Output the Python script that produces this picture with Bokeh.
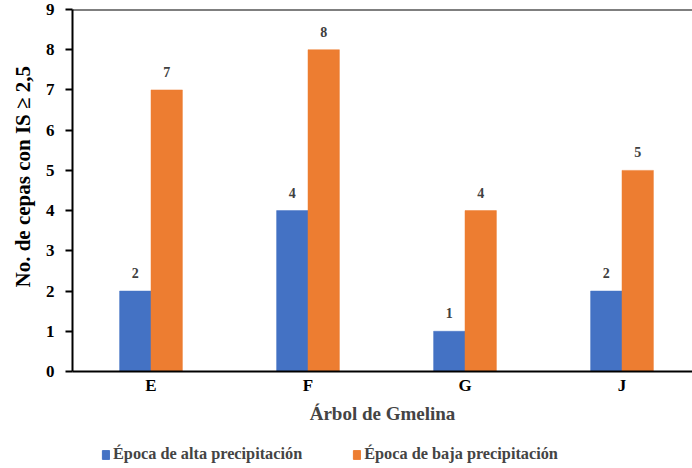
from bokeh.plotting import figure
from bokeh.layouts import column
from bokeh.models import (Range1d, ColumnDataSource, LabelSet, Span, Legend,
                          LegendItem, FixedTicker, Title)
from bokeh.transform import dodge
from bokeh.embed import file_html
from bokeh.resources import INLINE

# Data
arboles = ["E", "F", "G", "J"]
alta = [2, 4, 1, 2]
baja = [7, 8, 4, 5]
y_ticks = [0, 1, 2, 3, 4, 5, 6, 7, 8, 9]
serie_alta = "Época de alta precipitación"
serie_baja = "Época de baja precipitación"
titulo_x = "Árbol de Gmelina"
titulo_y = "No. de cepas con IS ≥ 2,5"

AZUL = "#4472C4"
NARANJA = "#ED7D31"
FONT = "Liberation Serif"

src = ColumnDataSource(dict(
    x=list(range(len(arboles))),
    alta=alta,
    baja=baja,
    alta_txt=[str(v) for v in alta],
    baja_txt=[str(v) for v in baja],
))

p = figure(width=692, height=440, output_backend="svg", toolbar_location=None,
           x_range=Range1d(-0.5, 3.449), y_range=Range1d(0, 9),
           min_border_left=72, min_border_right=0, min_border_top=9,
           min_border_bottom=69)
p.outline_line_color = None
p.xgrid.grid_line_color = None
p.ygrid.grid_line_color = None
p.background_fill_color = "white"
p.border_fill_color = "white"

w = 0.2
p.vbar(x=dodge("x", -w / 2, range=p.x_range), top="alta", width=w,
       source=src, fill_color=AZUL, line_color=AZUL, line_width=0.5)
p.vbar(x=dodge("x", w / 2, range=p.x_range), top="baja", width=w,
       source=src, fill_color=NARANJA, line_color=NARANJA, line_width=0.5)

# value labels above each bar
for col, off in (("alta", -w / 2), ("baja", w / 2)):
    p.add_layout(LabelSet(x=dodge("x", off, range=p.x_range), y=col,
                          text=col + "_txt", source=src, y_offset=13,
                          text_align="center", text_baseline="bottom",
                          text_font=FONT, text_font_style="bold",
                          text_font_size="14px", text_color="#404040"))

# top frame line
p.add_layout(Span(location=9, dimension="width", line_color="black", line_width=2))

# y axis
p.yaxis.ticker = FixedTicker(ticks=y_ticks)
p.yaxis.axis_line_width = 2
p.yaxis.major_tick_line_width = 2
p.yaxis.major_tick_out = 7
p.yaxis.major_tick_in = 0
p.yaxis.minor_tick_line_color = None
p.yaxis.major_label_standoff = 11
p.yaxis.major_label_text_font = FONT
p.yaxis.major_label_text_font_style = "bold"
p.yaxis.major_label_text_font_size = "17px"
p.yaxis.major_label_text_color = "black"

# y title, set a little above the middle of the axis
p.add_layout(Title(text=titulo_y, align="left", offset=84, standoff=15,
                   text_font=FONT, text_font_style="bold",
                   text_font_size="21px", text_color="black"), "left")

# x axis
p.xaxis.ticker = FixedTicker(ticks=list(range(len(arboles))))
p.xaxis.major_label_overrides = {i: a for i, a in enumerate(arboles)}
p.xaxis.axis_line_width = 2
p.xaxis.major_tick_line_color = None
p.xaxis.major_tick_out = 0
p.xaxis.major_tick_in = 0
p.xaxis.minor_tick_line_color = None
p.xaxis.minor_tick_out = 0
p.xaxis.major_label_standoff = 4
p.xaxis.major_label_text_font = FONT
p.xaxis.major_label_text_font_style = "bold"
p.xaxis.major_label_text_font_size = "17px"
p.xaxis.major_label_text_color = "black"
p.xaxis.axis_label = titulo_x
p.xaxis.axis_label_text_font = FONT
p.xaxis.axis_label_text_font_style = "bold"
p.xaxis.axis_label_text_font_size = "19px"
p.xaxis.axis_label_standoff = 5

# legend strip underneath the chart (its frame lines up with the chart's frame)
leg = figure(width=692, height=28, output_backend="svg", toolbar_location=None,
             x_axis_type=None, y_axis_type=None,
             x_range=Range1d(0, 1), y_range=Range1d(0, 1),
             min_border_left=0, min_border_right=0, min_border_top=0,
             min_border_bottom=0)
leg.outline_line_color = None
leg.xgrid.grid_line_color = None
leg.ygrid.grid_line_color = None
# swatch renderers kept outside the visible range; only their legend glyphs show
sw_alta = leg.vbar(x=[5], top=[1], width=0.1, fill_color=AZUL, line_color=AZUL)
sw_baja = leg.vbar(x=[5], top=[1], width=0.1, fill_color=NARANJA, line_color=NARANJA)

legend = Legend(items=[LegendItem(label=serie_alta, renderers=[sw_alta]),
                       LegendItem(label=serie_baja, renderers=[sw_baja])],
                orientation="horizontal", location=(29, 4),
                label_text_font=FONT, label_text_font_style="bold",
                label_text_font_size="16.3px", label_standoff=3,
                glyph_width=9, glyph_height=11, spacing=50,
                padding=0, margin=0, border_line_color=None,
                background_fill_alpha=0)
leg.add_layout(legend, "center")

layout = column(p, leg, spacing=0)
open("out.html", "w").write(file_html(layout, INLINE))
